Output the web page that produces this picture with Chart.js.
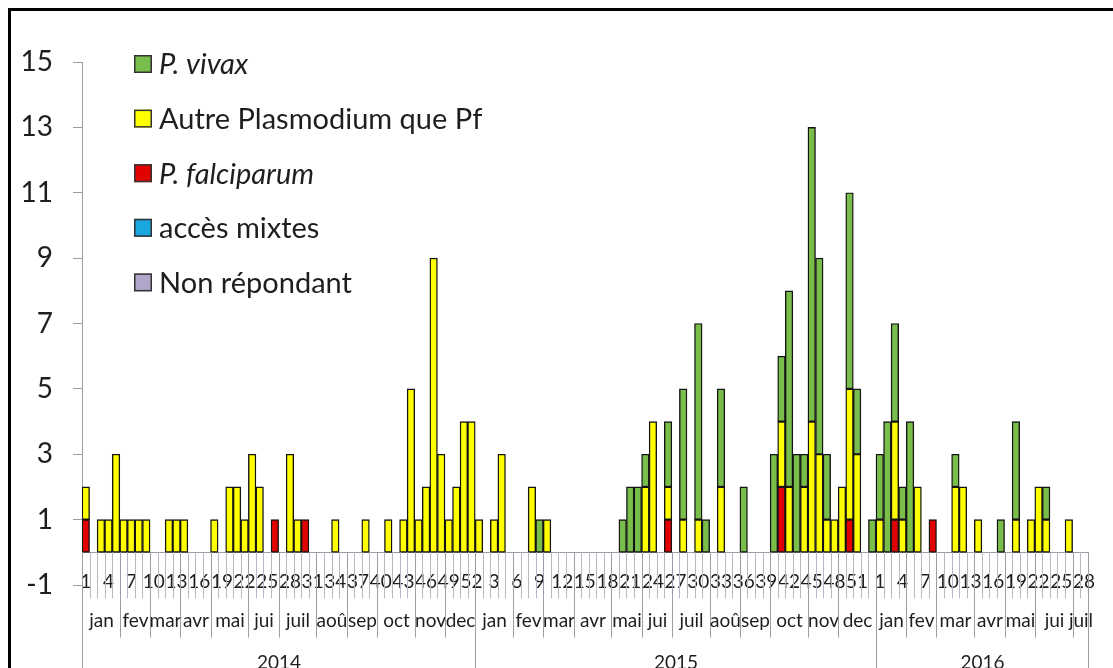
<!DOCTYPE html>
<html><head><meta charset="utf-8">
<script src="https://cdn.jsdelivr.net/npm/chart.js@4.4.1/dist/chart.umd.min.js"></script>
<style>html,body{margin:0;padding:0;background:#fff;} canvas{display:block;}</style>
</head><body>
<canvas id="c" width="1113" height="668"></canvas>
<script>
// ---------- categories ----------
const years = ['2014', '2015', '2016'];
const weeksPerYear = [52, 53, 28];
const monthNames = ['jan','fev','mar','avr','mai','jui','juil','aoû','sep','oct','nov','dec'];
const monthWeeks2014 = [5,4,4,4,5,4,5,4,4,5,4,4];
const monthWeeks2015 = [5,4,4,5,4,4,5,4,4,5,4,5];
const monthWeeks2016 = [4,4,5,4,4,5,2];
const yTicks = [-1, 1, 3, 5, 7, 9, 11, 13, 15];
const seriesNames = ['Non répondant', 'accès mixtes', 'P. falciparum', 'Autre Plasmodium que Pf', 'P. vivax'];

// ---------- series values (weekly counts) ----------
const falciparum2014 = [1,0,0,0,0,0,0,0,0,0, 0,0,0,0,0,0,0,0,0,0, 0,0,0,0,0,1,0,0,0,1, 0,0,0,0,0,0,0,0,0,0, 0,0,0,0,0,0,0,0,0,0, 0,0];
const autre2014      = [1,0,1,1,3,1,1,1,1,0, 0,1,1,1,0,0,0,1,0,2, 2,1,3,2,0,0,0,3,1,0, 0,0,0,1,0,0,0,1,0,0, 1,0,1,5,1,2,9,3,1,2, 4,4];
const vivax2014      = [0,0,0,0,0,0,0,0,0,0, 0,0,0,0,0,0,0,0,0,0, 0,0,0,0,0,0,0,0,0,0, 0,0,0,0,0,0,0,0,0,0, 0,0,0,0,0,0,0,0,0,0, 0,0];

const falciparum2015 = [0,0,0,0,0,0,0,0,0,0, 0,0,0,0,0,0,0,0,0,0, 0,0,0,0,0,1,0,0,0,0, 0,0,0,0,0,0,0,0,0,0, 2,0,0,0,0,0,0,0,0,1, 0,0,0];
const autre2015      = [1,0,1,3,0,0,0,2,0,1, 0,0,0,0,0,0,0,0,0,0, 0,0,2,4,0,1,0,1,0,1, 0,0,2,0,0,0,0,0,0,0, 2,2,0,2,4,3,1,1,2,4, 3,0,0];
const vivax2015      = [0,0,0,0,0,0,0,0,1,0, 0,0,0,0,0,0,0,0,0,1, 2,2,1,0,0,2,0,4,0,6, 1,0,3,0,0,2,0,0,0,3, 2,6,3,1,9,6,2,0,0,6, 2,0,1];

const falciparum2016 = [0,0,1,0,0,0,0,1,0,0, 0,0,0,0,0,0,0,0,0,0, 0,0,0,0,0,0,0,0];
const autre2016      = [1,0,3,1,0,2,0,0,0,0, 2,2,0,1,0,0,0,0,1,0, 1,2,1,0,0,1,0,0];
const vivax2016      = [2,4,3,1,4,0,0,0,0,0, 1,0,0,0,0,0,1,0,3,0, 0,0,1,0,0,0,0,0];

const mixtes = [];
const nonRepondant = [];

// ---------- build ----------
const weekLabels = [];
weeksPerYear.forEach(n => { for (let w = 1; w <= n; w++) weekLabels.push(String(w)); });
const N = weekLabels.length;
const nz = a => a.map(v => (v === 0 ? null : v));
const falciparum = nz([...falciparum2014, ...falciparum2015, ...falciparum2016]);
const autre = nz([...autre2014, ...autre2015, ...autre2016]);
const vivax = nz([...vivax2014, ...vivax2015, ...vivax2016]);
const monthsByYear = [monthWeeks2014, monthWeeks2015, monthWeeks2016];

const colors = {
  'Non répondant': '#b3a6cc',
  'accès mixtes': '#19a7e0',
  'P. falciparum': '#e30000',
  'Autre Plasmodium que Pf': '#ffff00',
  'P. vivax': '#79bd4b'
};
const italicNames = ['P. vivax', 'P. falciparum'];
const FONT = 'Lato';
const TXT = '#1e1e1e';
const AXIS = '#9a9ea6';

const dataArrays = [nonRepondant, mixtes, falciparum, autre, vivax];
const datasets = seriesNames.map((name, i) => ({
  label: name,
  data: dataArrays[i],
  backgroundColor: colors[name],
  borderColor: '#141414',
  borderWidth: 1.4,
  borderSkipped: false,
  categoryPercentage: 1.0,
  barPercentage: 1.0
}));

const framePlugin = {
  id: 'frame',
  afterDraw(chart) {
    const ctx = chart.ctx;
    ctx.save();
    ctx.fillStyle = '#000';
    ctx.fillRect(8, 8, chart.width - 8, 3);
    ctx.fillRect(8, 8, 3, chart.height - 8);
    ctx.restore();
  }
};

const multiAxisPlugin = {
  id: 'multiAxis',
  afterDraw(chart) {
    const {ctx, scales: {x, y}} = chart;
    const y0 = y.getPixelForValue(0);
    const half = (x.getPixelForValue(1) - x.getPixelForValue(0)) / 2;
    const edge = k => Math.round(x.getPixelForValue(k) - half) + 0.5;
    const line = (px, a, b) => { ctx.beginPath(); ctx.moveTo(px, a); ctx.lineTo(px, b); ctx.stroke(); };
    ctx.save();
    ctx.strokeStyle = '#b4b9c4';
    ctx.lineWidth = 1;
    for (let k = 0; k <= N; k++) line(edge(k), y0, y0 + 46);
    ctx.strokeStyle = '#9a9ea6';
    ctx.fillStyle = TXT;
    ctx.font = '19px ' + FONT;
    ctx.textAlign = 'center';
    ctx.textBaseline = 'middle';
    let k = 0;
    monthsByYear.forEach((spans, yi) => {
      const yStart = k;
      spans.forEach((n, mi) => {
        const a = edge(k), b = edge(k + n);
        line(a, y0, y0 + 85);
        line(b, y0, y0 + 85);
        ctx.fillText(monthNames[mi], (a + b) / 2, y0 + 69);
        k += n;
      });
      const a = edge(yStart), b = edge(k);
      line(a, y0, chart.height);
      line(b, y0, chart.height);
      ctx.fillText(years[yi], (a + b) / 2, y0 + 111);
    });
    ctx.restore();
  }
};

const legendPlugin = {
  id: 'insideLegend',
  afterDraw(chart) {
    const {ctx, chartArea} = chart;
    const items = chart.data.datasets.slice().reverse();
    ctx.save();
    items.forEach((ds, j) => {
      const cy = chartArea.top + 2 + j * 54.6;
      const bx = chartArea.left + 52;
      ctx.fillStyle = ds.backgroundColor;
      ctx.fillRect(bx, cy - 9, 18, 18);
      ctx.strokeStyle = '#333';
      ctx.lineWidth = 1.5;
      ctx.strokeRect(bx + 0.75, cy - 8.25, 16.5, 16.5);
      ctx.font = (italicNames.includes(ds.label) ? 'italic ' : '') + '29px ' + FONT;
      ctx.fillStyle = TXT;
      ctx.textAlign = 'left';
      ctx.textBaseline = 'middle';
      ctx.fillText(ds.label, bx + 25, cy + 1);
    });
    ctx.restore();
  }
};

Chart.defaults.font.family = FONT;
new Chart(document.getElementById('c'), {
  type: 'bar',
  data: { labels: weekLabels, datasets },
  options: {
    responsive: false,
    animation: false,
    devicePixelRatio: 1,
    layout: { padding: { top: 62, left: 0, right: 7, bottom: 83 } },
    plugins: { legend: { display: false }, tooltip: { enabled: false } },
    scales: {
      x: {
        type: 'category',
        stacked: true,
        offset: true,
        position: { y: 0 },
        grid: { display: false, drawTicks: false },
        border: { display: true, color: AXIS, width: 1 },
        ticks: {
          autoSkip: false, maxRotation: 0, minRotation: 0, padding: 18,
          color: TXT, font: { size: 19, family: FONT },
          callback: function (v, i) { return i % 3 === 0 ? this.getLabelForValue(v) : ''; }
        }
      },
      y: {
        stacked: true,
        min: -1, max: 15,
        afterBuildTicks: s => { s.ticks = yTicks.map(v => ({ value: v })); },
        afterFit: s => { s.width = 82; },
        grid: { display: true, drawOnChartArea: false, drawTicks: true, tickLength: 9, color: AXIS },
        border: { display: true, color: AXIS, width: 1 },
        ticks: { padding: 20, color: TXT, font: { size: 28, family: FONT } }
      }
    }
  },
  plugins: [multiAxisPlugin, legendPlugin, framePlugin]
});
</script>
</body></html>
